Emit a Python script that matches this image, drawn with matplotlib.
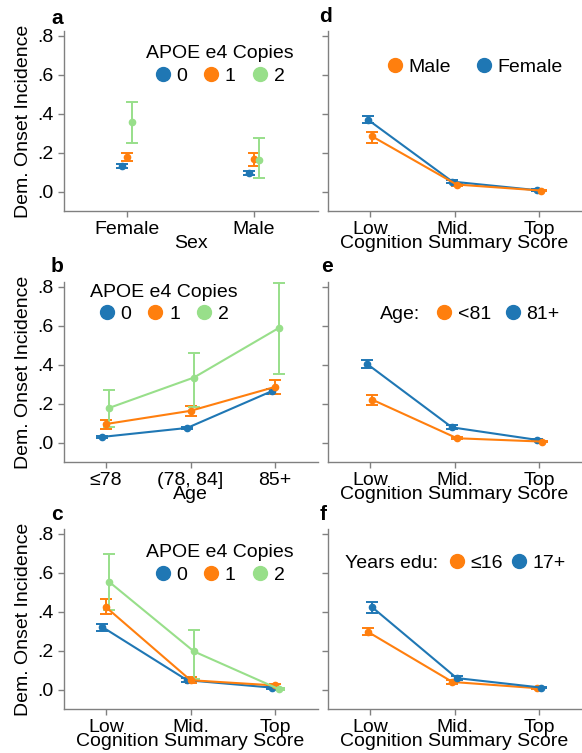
import numpy as np
import matplotlib
matplotlib.use("Agg")
import matplotlib.pyplot as plt
from matplotlib.lines import Line2D

plt.rcParams['font.family'] = ['Liberation Sans', 'DejaVu Sans']
plt.rcParams['font.size'] = 14

BLUE = '#1f77b4'
ORANGE = '#ff7f0e'
GREEN = '#98df8a'
GRAY = '#808080'

# panel a: sex x APOE e4 copies
sex_cats = ['Female', 'Male']
sex_e0 = [0.133, 0.097]
sex_e0_lo = [0.122, 0.086]
sex_e0_hi = [0.144, 0.108]
sex_e1 = [0.178, 0.165]
sex_e1_lo = [0.155, 0.132]
sex_e1_hi = [0.198, 0.198]
sex_e2 = [0.355, 0.162]
sex_e2_lo = [0.248, 0.068]
sex_e2_hi = [0.458, 0.277]

# panel b: age x APOE e4 copies
age_cats = ['≤78', '(78, 84]', '85+']
age_e0 = [0.029, 0.075, 0.264]
age_e0_lo = [0.023, 0.068, 0.250]
age_e0_hi = [0.035, 0.082, 0.276]
age_e1 = [0.095, 0.163, 0.286]
age_e1_lo = [0.068, 0.134, 0.250]
age_e1_hi = [0.114, 0.190, 0.320]
age_e2 = [0.178, 0.334, 0.588]
age_e2_lo = [0.080, 0.185, 0.351]
age_e2_hi = [0.270, 0.461, 0.820]

# panel c: cognition x APOE e4 copies
cog_cats = ['Low', 'Mid.', 'Top']
cog_e0 = [0.321, 0.048, 0.010]
cog_e0_lo = [0.302, 0.040, 0.005]
cog_e0_hi = [0.339, 0.057, 0.016]
cog_e1 = [0.424, 0.048, 0.021]
cog_e1_lo = [0.388, 0.035, 0.012]
cog_e1_hi = [0.465, 0.064, 0.030]
cog_e2 = [0.553, 0.196, 0.003]
cog_e2_lo = [0.410, 0.056, 0.000]
cog_e2_hi = [0.696, 0.308, 0.010]

# panel d: cognition x sex
d_female = [0.370, 0.051, 0.007]
d_female_lo = [0.350, 0.043, 0.003]
d_female_hi = [0.390, 0.060, 0.011]
d_male = [0.284, 0.036, 0.005]
d_male_lo = [0.251, 0.026, 0.002]
d_male_hi = [0.306, 0.046, 0.009]

# panel e: cognition x age
e_old = [0.403, 0.078, 0.014]
e_old_lo = [0.382, 0.068, 0.009]
e_old_hi = [0.423, 0.088, 0.019]
e_young = [0.220, 0.022, 0.005]
e_young_lo = [0.191, 0.016, 0.002]
e_young_hi = [0.245, 0.028, 0.009]

# panel f: cognition x years of education
f_high = [0.424, 0.059, 0.010]
f_high_lo = [0.394, 0.049, 0.006]
f_high_hi = [0.452, 0.070, 0.014]
f_low = [0.297, 0.039, 0.007]
f_low_lo = [0.278, 0.030, 0.004]
f_low_hi = [0.316, 0.048, 0.010]

yticks = [0, 0.2, 0.4, 0.6, 0.8]
ytick_labels = ['.0', '.2', '.4', '.6', '.8']


def draw_group(ax, mean, lo, hi, color, shift, join=True):
    mean = np.array(mean)
    xs = np.arange(len(mean)) + shift
    err = [mean - np.array(lo), np.array(hi) - mean]
    ax.errorbar(xs, mean, yerr=err, fmt='-o' if join else 'o', color=color,
                ms=4.5, lw=1.5, elinewidth=1.4, capsize=4.5, capthick=1.4)


def style_axes(ax, cats, xlabel, show_y):
    ax.set_xlim(-0.5, len(cats) - 0.5)
    ax.set_ylim(-0.1, 0.825)
    ax.set_xticks(range(len(cats)))
    ax.set_xticklabels(cats)
    ax.set_yticks(yticks)
    if show_y:
        ax.set_yticklabels(ytick_labels)
        ax.set_ylabel('Dem. Onset Incidence', labelpad=4)
    else:
        ax.set_yticklabels([])
    ax.set_xlabel(xlabel, labelpad=-2)
    for s in ['top', 'right']:
        ax.spines[s].set_visible(False)
    for s in ['left', 'bottom']:
        ax.spines[s].set_color(GRAY)
        ax.spines[s].set_linewidth(1.0)
    ax.tick_params(colors=GRAY, labelcolor='black', length=4, width=1.0, pad=3, labelsize=14)


def dot(color):
    return Line2D([], [], ls='', marker='o', ms=10, color=color)


def apoe_legend(ax, x, y):
    ax.legend([dot(BLUE), dot(ORANGE), dot(GREEN)], ['0', '1', '2'], title='APOE e4 Copies',
              ncol=3, frameon=False, handlelength=0.8, handletextpad=0.3, columnspacing=0.85,
              labelspacing=0.25, borderpad=0, borderaxespad=0, loc='upper center',
              bbox_to_anchor=(x, y), fontsize=14, title_fontsize=14)


fig = plt.figure(figsize=(5.82, 7.53), dpi=100)
W, H = 582, 753
aw, ah = 254 / W, 180 / H
lefts = [63.5 / W, 327.5 / W]
bottoms = [(H - 211) / H, (H - 462) / H, (H - 709) / H]
shifts3 = [-0.04, 0.0, 0.04]

# a
ax = fig.add_axes([lefts[0], bottoms[0], aw, ah])
for m, lo, hi, c, s in [(sex_e0, sex_e0_lo, sex_e0_hi, BLUE, shifts3[0]),
                        (sex_e1, sex_e1_lo, sex_e1_hi, ORANGE, shifts3[1]),
                        (sex_e2, sex_e2_lo, sex_e2_hi, GREEN, shifts3[2])]:
    draw_group(ax, m, lo, hi, c, s, join=False)
style_axes(ax, sex_cats, 'Sex', True)
apoe_legend(ax, 0.615, 0.92)

# b
ax = fig.add_axes([lefts[0], bottoms[1], aw, ah])
for m, lo, hi, c, s in [(age_e0, age_e0_lo, age_e0_hi, BLUE, shifts3[0]),
                        (age_e1, age_e1_lo, age_e1_hi, ORANGE, shifts3[1]),
                        (age_e2, age_e2_lo, age_e2_hi, GREEN, shifts3[2])]:
    draw_group(ax, m, lo, hi, c, s)
style_axes(ax, age_cats, 'Age', True)
apoe_legend(ax, 0.395, 0.99)

# c
ax = fig.add_axes([lefts[0], bottoms[2], aw, ah])
for m, lo, hi, c, s in [(cog_e0, cog_e0_lo, cog_e0_hi, BLUE, shifts3[0]),
                        (cog_e1, cog_e1_lo, cog_e1_hi, ORANGE, shifts3[1]),
                        (cog_e2, cog_e2_lo, cog_e2_hi, GREEN, shifts3[2])]:
    draw_group(ax, m, lo, hi, c, s)
style_axes(ax, cog_cats, 'Cognition Summary Score', True)
apoe_legend(ax, 0.615, 0.915)

# d
ax = fig.add_axes([lefts[1], bottoms[0], aw, ah])
draw_group(ax, d_female, d_female_lo, d_female_hi, BLUE, -0.025)
draw_group(ax, d_male, d_male_lo, d_male_hi, ORANGE, 0.025)
style_axes(ax, cog_cats, 'Cognition Summary Score', False)
ax.legend([dot(ORANGE), dot(BLUE)], ['Male', 'Female'], ncol=2, frameon=False,
          handlelength=0.8, handletextpad=0.3, columnspacing=1.3, borderpad=0,
          borderaxespad=0, loc='center', bbox_to_anchor=(0.58, 0.80), fontsize=14)

# e
ax = fig.add_axes([lefts[1], bottoms[1], aw, ah])
draw_group(ax, e_old, e_old_lo, e_old_hi, BLUE, -0.03)
draw_group(ax, e_young, e_young_lo, e_young_hi, ORANGE, 0.03)
style_axes(ax, cog_cats, 'Cognition Summary Score', False)
ax.text(0.205, 0.82, 'Age:', transform=ax.transAxes, va='center', ha='left', fontsize=14)
ax.legend([dot(ORANGE), dot(BLUE)], ['<81', '81+'], ncol=2, frameon=False,
          handlelength=0.8, handletextpad=0.3, columnspacing=0.7, borderpad=0,
          borderaxespad=0, loc='center left', bbox_to_anchor=(0.43, 0.82), fontsize=14)

# f
ax = fig.add_axes([lefts[1], bottoms[2], aw, ah])
draw_group(ax, f_low, f_low_lo, f_low_hi, ORANGE, -0.025)
draw_group(ax, f_high, f_high_lo, f_high_hi, BLUE, 0.025)
style_axes(ax, cog_cats, 'Cognition Summary Score', False)
ax.text(0.068, 0.81, 'Years edu:', transform=ax.transAxes, va='center', ha='left', fontsize=14)
ax.legend([dot(ORANGE), dot(BLUE)], ['≤16', '17+'], ncol=2, frameon=False,
          handlelength=0.8, handletextpad=0.3, columnspacing=0.4, borderpad=0,
          borderaxespad=0, loc='center left', bbox_to_anchor=(0.48, 0.81), fontsize=14)

# panel letters
for lab, x, y in [('a', 57, 18), ('b', 57, 267), ('c', 57, 515),
                  ('d', 326, 17), ('e', 327, 266), ('f', 323, 515)]:
    fig.text(x / W, 1 - y / H, lab, ha='center', va='center', fontsize=15, fontweight='bold')

fig.savefig('out.png', dpi=100)
